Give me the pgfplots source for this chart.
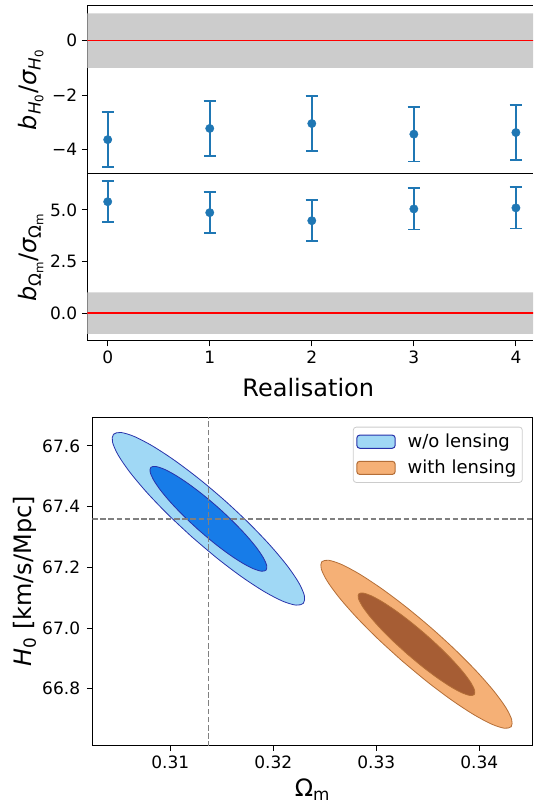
\documentclass[border=0pt]{standalone}
\usepackage{fontspec}
\setmainfont{DejaVu Sans}
\usepackage{pgfplots}
\pgfplotsset{compat=1.18}

\definecolor{tabblue}{RGB}{31,119,180}
\definecolor{bandgray}{RGB}{204,204,204}
\definecolor{blueOut}{RGB}{160,216,245}
\definecolor{blueIn}{RGB}{23,124,232}
\definecolor{blueEdge}{RGB}{40,50,170}
\definecolor{orangeOut}{RGB}{245,176,118}
\definecolor{orangeIn}{RGB}{166,93,52}
\definecolor{orangeEdge}{RGB}{180,110,55}
\definecolor{dashgray}{RGB}{128,128,128}

\newcommand{\tickfont}{\fontsize{17}{20}\selectfont}
\newcommand{\lblfont}{\fontsize{24}{28}\selectfont}

\pgfplotsset{
  myaxis/.style={
    scale only axis,
    tick align=outside,
    tick pos=left,
    major tick length=5.5pt,
    every tick/.style={black, line width=1pt},
    axis line style={black, line width=1pt},
    tick label style={font=\tickfont},
    xticklabel style={inner sep=4.5pt},
    yticklabel style={inner sep=4.5pt},
  },
  errstyle/.style={
    tabblue, only marks, mark=*, mark size=4.2pt,
    mark options={fill=tabblue, draw=tabblue},
    error bars/.cd, y dir=both, y explicit,
    error bar style={line width=1.8pt, tabblue},
    error mark options={rotate=90, mark size=6.2pt, line width=1.8pt, tabblue}
  }
}

\begin{document}
\begin{tikzpicture}
% ---------------- top panel ----------------
\begin{axis}[myaxis,
  axis y line*=left, axis x line*=box,
  at={(87.3pt,797pt)}, anchor=north west,
  width=445.7pt, height=167.7pt,
  xmin=-0.2, xmax=4.1675, ymin=-4.88, ymax=1.273,
  xtick=\empty,
  ytick={-4,-2,0}, yticklabels={−4,−2,0},
  ylabel={{\itshape b}\textsubscript{{\itshape H}\textsubscript{0}}/{\itshape σ}\textsubscript{{\itshape H}\textsubscript{0}}},
  ylabel style={at={(axis description cs:-0.113,0.5)}, anchor=base, font=\lblfont},
]
\addplot[draw=none, fill=bandgray] coordinates {(-1,-1) (5,-1) (5,1) (-1,1) (-1,-1)};
\addplot[red, line width=1.5pt] coordinates {(-1,0) (5,0)};
\addplot[errstyle] coordinates {
  (0,-3.63) +- (0,1.0)
  (1,-3.22) +- (0,1.0)
  (2,-3.04) +- (0,1.0)
  (3,-3.43) +- (0,1.0)
  (4,-3.37) +- (0,1.0)
};
\end{axis}

% ---------------- middle panel ----------------
\begin{axis}[myaxis,
  axis y line*=left, axis x line*=box,
  at={(87.3pt,629.3pt)}, anchor=north west,
  width=445.7pt, height=167.3pt,
  xmin=-0.2, xmax=4.1675, ymin=-1.35, ymax=6.757,
  xtick={0,1,2,3,4}, xticklabels={0,1,2,3,4},
  ytick={0,2.5,5}, yticklabels={0.0,2.5,5.0},
  xlabel={Realisation},
  xlabel style={at={(axis description cs:0.4957,-0.3317)}, anchor=base, font=\lblfont},
  ylabel={{\itshape b}\textsubscript{Ω\textsubscript{m}}/{\itshape σ}\textsubscript{Ω\textsubscript{m}}},
  ylabel style={at={(axis description cs:-0.113,0.5)}, anchor=base, font=\lblfont},
]
\addplot[draw=none, fill=bandgray] coordinates {(-1,-1) (5,-1) (5,1) (-1,1) (-1,-1)};
\addplot[red, line width=1.5pt] coordinates {(-1,0) (5,0)};
\addplot[errstyle] coordinates {
  (0,5.40) +- (0,1.0)
  (1,4.87) +- (0,1.0)
  (2,4.48) +- (0,1.0)
  (3,5.05) +- (0,1.0)
  (4,5.10) +- (0,1.0)
};
\end{axis}

% ---------------- bottom panel ----------------
\begin{axis}[myaxis,
  at={(92.3pt,385.7pt)}, anchor=north west,
  width=440.4pt, height=328pt,
  xmin=0.302427, xmax=0.345184, ymin=66.6134, ymax=67.6946,
  xtick={0.31,0.32,0.33,0.34}, xticklabels={0.31,0.32,0.33,0.34},
  ytick={66.8,67.0,67.2,67.4,67.6}, yticklabels={66.8,67.0,67.2,67.4,67.6},
  yticklabel style={inner sep=6.5pt},
  xlabel={Ω\textsubscript{m}},
  xlabel style={at={(axis description cs:0.5,-0.1567)}, anchor=base, font=\lblfont},
  ylabel={{\itshape H}\textsubscript{0} [km/s/Mpc]},
  ylabel style={at={(axis description cs:-0.137,0.5)}, anchor=base, font=\lblfont},
  legend style={at={(axis description cs:0.9773,0.9713)}, anchor=north east,
    draw=black!20, line width=0.8pt, rounded corners=3pt, fill=white,
    font=\fontsize{18}{21}\selectfont, inner xsep=3pt, inner ysep=4pt,
    row sep=5pt, nodes={inner sep=3pt}},
  legend cell align=left,
  legend image code/.code={\draw[#1] (0pt,-6.6pt) rectangle (38.4pt,6.6pt);},
]
\addplot[forget plot, smooth, fill=blueOut, draw=blueEdge, line width=0.8pt] coordinates {
(0.312119,67.29965) (0.309787,67.37376) (0.307721,67.44695) (0.306062,67.51419)
(0.304924,67.57092) (0.304385,67.61330) (0.304480,67.63841) (0.305203,67.64454)
(0.306506,67.63128) (0.308298,67.59953) (0.310459,67.55147) (0.312841,67.49034)
(0.315281,67.42035) (0.317613,67.34624) (0.319679,67.27305) (0.321338,67.20581)
(0.322476,67.14908) (0.323015,67.10670) (0.322920,67.08159) (0.322197,67.07546)
(0.320894,67.08872) (0.319102,67.12047) (0.316941,67.16853) (0.314559,67.22966)
(0.312119,67.29965)};
\addplot[forget plot, smooth, fill=blueIn, draw=blueEdge, line width=0.8pt] coordinates {
(0.312740,67.32337) (0.311325,67.36836) (0.310071,67.41278) (0.309063,67.45360)
(0.308373,67.48803) (0.308046,67.51376) (0.308103,67.52900) (0.308542,67.53272)
(0.309333,67.52467) (0.310421,67.50540) (0.311733,67.47622) (0.313179,67.43912)
(0.314660,67.39663) (0.316075,67.35164) (0.317329,67.30722) (0.318337,67.26640)
(0.319027,67.23197) (0.319354,67.20624) (0.319297,67.19100) (0.318858,67.18728)
(0.318067,67.19533) (0.316979,67.21460) (0.315667,67.24378) (0.314221,67.28088)
(0.312740,67.32337)};
\addplot[forget plot, smooth, fill=orangeOut, draw=orangeEdge, line width=0.8pt] coordinates {
(0.332497,66.89182) (0.330165,66.96404) (0.328087,67.03510) (0.326406,67.10009)
(0.325235,67.15462) (0.324656,67.19497) (0.324705,67.21839) (0.325382,67.22327)
(0.326639,67.20930) (0.328390,67.17741) (0.330517,67.12980) (0.332875,67.06968)
(0.335303,67.00118) (0.337635,66.92896) (0.339713,66.85790) (0.341394,66.79291)
(0.342565,66.73838) (0.343144,66.69803) (0.343095,66.67461) (0.342418,66.66973)
(0.341161,66.68370) (0.339410,66.71559) (0.337283,66.76320) (0.334925,66.82332)
(0.332497,66.89182)};
\addplot[forget plot, smooth, fill=orangeIn, draw=orangeEdge, line width=0.8pt] coordinates {
(0.333044,66.91315) (0.331621,66.95721) (0.330354,67.00055) (0.329329,67.04019)
(0.328615,67.07345) (0.328260,67.09806) (0.328291,67.11235) (0.328704,67.11532)
(0.329471,67.10681) (0.330539,67.08735) (0.331836,67.05831) (0.333275,67.02163)
(0.334756,66.97985) (0.336179,66.93579) (0.337446,66.89245) (0.338471,66.85281)
(0.339185,66.81955) (0.339540,66.79494) (0.339509,66.78065) (0.339096,66.77768)
(0.338329,66.78619) (0.337261,66.80565) (0.335964,66.83469) (0.334525,66.87137)
(0.333044,66.91315)};
\addplot[forget plot, dashgray, line width=1.8pt, dash pattern=on 5.6pt off 2.6pt] coordinates {(0.3137,66.5) (0.3137,67.8)};
\addplot[forget plot, dashgray, line width=1.8pt, dash pattern=on 5.6pt off 2.6pt] coordinates {(0.30,67.36) (0.35,67.36)};
\addlegendimage{fill=blueOut, draw=blueEdge, line width=1pt}
\addlegendentry{\hspace{9pt}w/o lensing}
\addlegendimage{fill=orangeOut, draw=orangeEdge, line width=1pt}
\addlegendentry{\hspace{9pt}with lensing}
\end{axis}
\pgfresetboundingbox
\useasboundingbox (0pt,0pt) rectangle (533pt,803pt);
\end{tikzpicture}
\end{document}
